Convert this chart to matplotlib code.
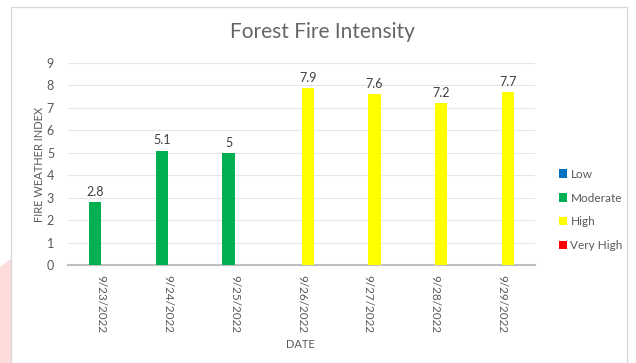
import matplotlib
matplotlib.use("Agg")
import matplotlib.pyplot as plt
from matplotlib.patches import Rectangle, Polygon

# Data
dates = ["9/23/2022", "9/24/2022", "9/25/2022", "9/26/2022",
         "9/27/2022", "9/28/2022", "9/29/2022"]
fwi = [2.8, 5.1, 5, 7.9, 7.6, 7.2, 7.7]
levels = ["Moderate", "Moderate", "Moderate", "High", "High", "High", "High"]
series = ["Low", "Moderate", "High", "Very High"]
colors = {"Low": "#0070c0", "Moderate": "#00b050", "High": "#ffff00", "Very High": "#ff0000"}

plt.rcParams['font.family'] = ['Lato', 'DejaVu Sans']
text_col = "#595959"

fig = plt.figure(figsize=(6.36, 3.63), dpi=100)
W, H = 636, 363

# background decoration and chart frame
fig.patches.append(Polygon([(0, 0), (11 / W, 0), (11 / W, 1 - 259 / H), (0, 1 - 267 / H)],
                           closed=True, transform=fig.transFigure, facecolor="#fddcdc",
                           edgecolor="none", zorder=-2))
fig.patches.append(Rectangle((11 / W, -0.05), 616 / W, 1.05 - 7 / H, transform=fig.transFigure,
                             facecolor="white", edgecolor="#d9d9d9", linewidth=1, zorder=-1))

ax = fig.add_axes([68 / W, 1 - 265 / H, 467 / W, 202 / H])
ax.set_zorder(5)
ax.set_facecolor("none")

x = list(range(len(dates)))
w = 0.1875
for i, s in enumerate(series):
    vals = [v if lv == s else 0 for v, lv in zip(fwi, levels)]
    pos = [xi + (i - 1.5) * w for xi in x]
    ax.bar(pos, vals, width=w, color=colors[s], label=s, zorder=3)
    for p, v in zip(pos, vals):
        if v > 0:
            ax.annotate(f"{v:g}", (p, v), xytext=(0, 3), textcoords="offset points",
                        ha="center", va="bottom", fontsize=9, color="#404040")

ax.set_xlim(-0.5, len(dates) - 0.5)
ax.set_ylim(0, 9)
ax.set_yticks(range(10))
ax.set_xticks(x)
ax.set_xticklabels(dates, rotation=-90, fontsize=8.5, color=text_col)
ax.tick_params(axis="y", labelsize=9, labelcolor=text_col, length=0, pad=10)
ax.tick_params(axis="x", length=0, pad=7)
ax.grid(axis="y", color="#e6e6e6", linewidth=0.8, zorder=0)
for sp in ["top", "right", "left"]:
    ax.spines[sp].set_visible(False)
ax.spines["bottom"].set_color("#bfbfbf")
ax.spines["bottom"].set_linewidth(1.5)

ax.set_ylabel("FIRE WEATHER INDEX", fontsize=8, color=text_col, labelpad=1)
fig.text(300 / W, 1 - 345 / H, "DATE", fontsize=8, color=text_col, ha="center", va="center")
fig.text(322 / W, 1 - 32 / H, "Forest Fire Intensity", fontsize=15, color="#666666",
         ha="center", va="center")

leg = ax.legend(loc="center left", bbox_to_anchor=(548 / W, 1 - 210 / H),
                bbox_transform=fig.transFigure, frameon=False, fontsize=8.5,
                handlelength=0.7, handleheight=0.7, handletextpad=0.3, labelspacing=1.1)
for t in leg.get_texts():
    t.set_color(text_col)

fig.savefig("out.png", dpi=100)
